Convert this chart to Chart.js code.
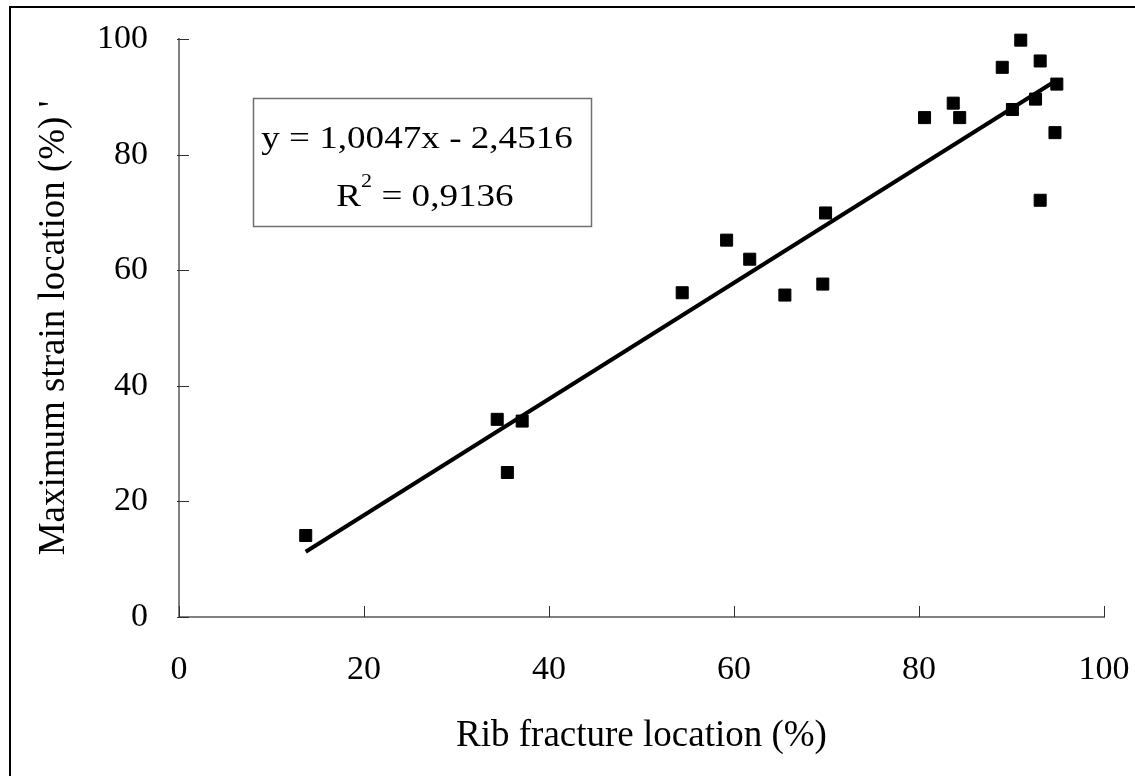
<!DOCTYPE html>
<html><head><meta charset="utf-8">
<script src="https://cdn.jsdelivr.net/npm/chart.js@4.4.1/dist/chart.umd.min.js"></script>
<style>html,body{margin:0;padding:0;background:#fff;overflow:hidden}canvas{display:block}</style>
</head><body>
<canvas id="c" width="1135" height="776"></canvas>
<script>
// ---- data ----
const ribFracture = [13.7, 34.4, 35.5, 37.1, 54.4, 59.2, 61.7, 65.5, 69.6, 69.9, 80.6, 83.7, 84.4, 89.0, 90.1, 91.0, 92.6, 93.1, 93.1, 94.7, 94.9];
const maxStrain   = [14.1, 34.2, 25.0, 33.9, 56.1, 65.2, 61.9, 55.7, 57.6, 69.9, 86.4, 88.9, 86.4, 95.1, 87.8, 99.8, 89.6, 96.2, 72.1, 83.8, 92.2];
const trendX = [13.7, 95.0];
const trendY = [11.3, 93.0];
const xTicks = [0, 20, 40, 60, 80, 100];
const yTicks = [0, 20, 40, 60, 80, 100];
const xTitle = 'Rib fracture location (%)';
const yTitle = "Maximum strain location (%) '";
const eqLine1 = 'y = 1,0047x - 2,4516';
const eqR = 'R';
const eqSup = '2';
const eqLine2 = ' = 0,9136';

const FONT = "'Liberation Serif', 'Times New Roman', serif";

const scatterPts = ribFracture.map((x, i) => ({x, y: maxStrain[i]}));
const trendPts = trendX.map((x, i) => ({x, y: trendY[i]}));

const framePlugin = {
  id: 'frame',
  beforeDraw(chart) {
    const ctx = chart.ctx;
    ctx.save();
    ctx.fillStyle = '#fff';
    ctx.fillRect(0, 0, chart.width, chart.height);
    ctx.strokeStyle = '#000';
    ctx.lineWidth = 2;
    ctx.strokeRect(10, 7, 3000, 3000);
    ctx.restore();
  }
};

const innerTicks = {
  id: 'innerTicks',
  beforeDatasetsDraw(chart) {
    const ctx = chart.ctx, ca = chart.chartArea;
    const xs = chart.scales.x, ys = chart.scales.y;
    ctx.save();
    ctx.strokeStyle = '#303030';
    ctx.lineWidth = 1;
    ctx.beginPath();
    ys.ticks.forEach(t => {
      const p = Math.round(ys.getPixelForValue(t.value)) + 0.5;
      ctx.moveTo(ca.left - 2, p); ctx.lineTo(ca.left + 10, p);
    });
    xs.ticks.forEach(t => {
      const p = Math.round(xs.getPixelForValue(t.value)) + 0.5;
      ctx.moveTo(p, ca.bottom); ctx.lineTo(p, ca.bottom - 11);
    });
    ctx.stroke();
    ctx.restore();
  }
};

const equationBox = {
  id: 'equationBox',
  afterDraw(chart) {
    const ctx = chart.ctx, ca = chart.chartArea;
    const bx = ca.left + 74, by = ca.top + 59, bw = 338, bh = 128;
    const sx = 1.16;
    ctx.save();
    ctx.strokeStyle = '#707070';
    ctx.lineWidth = 1.5;
    ctx.strokeRect(bx + 0.5, by + 0.5, bw, bh);
    ctx.fillStyle = '#000';
    ctx.textBaseline = 'alphabetic';
    ctx.font = '32px ' + FONT;
    ctx.save();
    ctx.translate(bx + 164, by + 50);
    ctx.scale(sx, 1);
    ctx.textAlign = 'center';
    ctx.fillText(eqLine1, 0, 0);
    ctx.restore();
    ctx.font = '32px ' + FONT;
    const wR = ctx.measureText(eqR).width * sx;
    const wRest = ctx.measureText(eqLine2).width * sx;
    ctx.font = '19px ' + FONT;
    const wS = ctx.measureText(eqSup).width * sx;
    const total = wR + wS + wRest;
    let x = bx + 172 - total / 2;
    const base = by + 108;
    ctx.textAlign = 'left';
    ctx.save(); ctx.translate(x, base); ctx.scale(sx, 1);
    ctx.font = '32px ' + FONT; ctx.fillText(eqR, 0, 0); ctx.restore();
    x += wR;
    ctx.save(); ctx.translate(x, base - 19); ctx.scale(sx, 1);
    ctx.font = '19px ' + FONT; ctx.fillText(eqSup, 0, 0); ctx.restore();
    x += wS;
    ctx.save(); ctx.translate(x, base); ctx.scale(sx, 1);
    ctx.font = '32px ' + FONT; ctx.fillText(eqLine2, 0, 0); ctx.restore();
    ctx.restore();
  }
};

function zeroPad(s) { s.paddingLeft = 0; s.paddingRight = 0; s.paddingTop = 0; s.paddingBottom = 0; }

new Chart(document.getElementById('c'), {
  type: 'scatter',
  data: {
    datasets: [
      {
        label: 'data',
        data: scatterPts,
        pointStyle: 'rect',
        pointRadius: 8.5,
        pointHoverRadius: 8.5,
        backgroundColor: '#000',
        borderColor: '#000',
        borderWidth: 1,
        showLine: false,
        clip: false
      },
      {
        label: 'trend',
        data: trendPts,
        showLine: true,
        borderColor: '#000',
        borderWidth: 4,
        pointRadius: 0,
        fill: false,
        tension: 0,
        clip: false
      }
    ]
  },
  options: {
    responsive: false,
    animation: false,
    events: [],
    layout: { padding: { left: 0, top: 39, right: 31, bottom: 0 } },
    plugins: { legend: { display: false }, tooltip: { enabled: false } },
    scales: {
      x: {
        type: 'linear', min: 0, max: 100,
        afterBuildTicks: s => { s.ticks = xTicks.map(v => ({value: v})); },
        afterFit: s => { s.height = 159; zeroPad(s); },
        grid: { display: false, drawTicks: false },
        border: { display: true, color: '#808080', width: 2 },
        ticks: { color: '#000', padding: 33, font: { family: FONT, size: 34, lineHeight: 1.2 } },
        title: { display: true, text: xTitle, color: '#000', padding: { top: 0, bottom: 18 }, font: { family: FONT, size: 37, lineHeight: 1.2 } }
      },
      y: {
        type: 'linear', min: 0, max: 100,
        afterBuildTicks: s => { s.ticks = yTicks.map(v => ({value: v})); },
        afterFit: s => { s.width = 179; zeroPad(s); },
        grid: { display: false, drawTicks: false },
        border: { display: true, color: '#808080', width: 2 },
        ticks: { color: '#000', padding: 31, font: { family: FONT, size: 34, lineHeight: 1.2 } },
        title: { display: true, text: yTitle, color: '#000', padding: { top: 32, bottom: 0 }, font: { family: FONT, size: 37, lineHeight: 1.2 } }
      }
    }
  },
  plugins: [framePlugin, innerTicks, equationBox]
});
</script>
</body></html>
